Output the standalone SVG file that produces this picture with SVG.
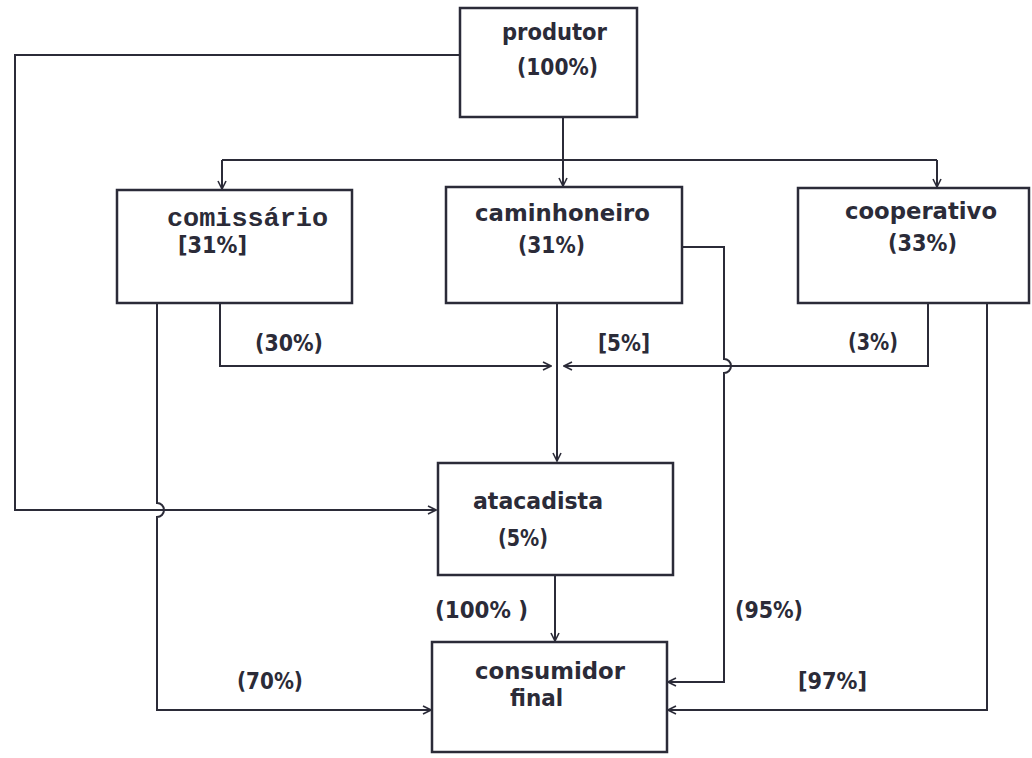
<svg xmlns="http://www.w3.org/2000/svg" width="1032" height="758" viewBox="0 0 1032 758">
  <defs>
    <style>
      .box { fill: #ffffff; stroke: #2b2b38; stroke-width: 2.5; }
      .wire { fill: none; stroke: #2b2b38; stroke-width: 2; }
      .lbl { font-family: "DejaVu Sans Condensed", "DejaVu Sans", sans-serif; font-weight: bold; font-size: 23px; fill: #2b2b38; }
      .mono { font-family: "Liberation Mono", "DejaVu Sans Mono", monospace; font-size: 26px; font-weight: bold; fill: #2b2b38; }
    </style>
    <marker id="arr" viewBox="0 0 10 10" refX="9" refY="5" markerWidth="10" markerHeight="10" markerUnits="userSpaceOnUse" orient="auto">
      <path d="M1,1 L9,5 L1,9" fill="none" stroke="#2b2b38" stroke-width="1.6"/>
    </marker>
  </defs>
  <rect width="1032" height="758" fill="#ffffff"/>

  <!-- flows between the stages -->
  <g id="connectors" class="wire">
    <!-- produtor straight to atacadista -->
    <path d="M460,55 H15 V510 H436" marker-end="url(#arr)"/>
    <!-- produtor fans out to the three intermediaries -->
    <path d="M563,117 V160"/>
    <path d="M222,160 H937"/>
    <path d="M222,160 V189" marker-end="url(#arr)"/>
    <path d="M563,160 V186" marker-end="url(#arr)"/>
    <path d="M937,160 V187" marker-end="url(#arr)"/>
    <!-- comissário to consumidor final (70%), hopping the produtor line -->
    <path d="M157,303 V503 A7,7 0 0 1 157,517 V710 H431" marker-end="url(#arr)"/>
    <!-- comissário to atacadista (30%) -->
    <path d="M220,303 V366 H551" marker-end="url(#arr)"/>
    <!-- caminhoneiro to atacadista (5%) -->
    <path d="M557,303 V461" marker-end="url(#arr)"/>
    <!-- cooperativo to atacadista (3%) -->
    <path d="M928,303 V366 H564" marker-end="url(#arr)"/>
    <!-- caminhoneiro to consumidor final (95%), hopping the 3% line -->
    <path d="M682,247 H724 V359 A7,7 0 0 1 724,373 V682 H668" marker-end="url(#arr)"/>
    <!-- cooperativo to consumidor final (97%) -->
    <path d="M987,303 V710 H668" marker-end="url(#arr)"/>
    <!-- atacadista to consumidor final (100%) -->
    <path d="M555,575 V641" marker-end="url(#arr)"/>
  </g>

  <g id="produtor">
    <rect class="box" x="460" y="8" width="177" height="109"/>
    <text class="lbl" x="502" y="40" textLength="105" lengthAdjust="spacingAndGlyphs">produtor</text>
    <text class="lbl" x="517" y="75" textLength="81" lengthAdjust="spacingAndGlyphs">(100%)</text>
  </g>

  <g id="comissario">
    <rect class="box" x="117" y="190" width="235" height="113"/>
    <text class="mono" x="167" y="226" textLength="161" lengthAdjust="spacingAndGlyphs">comissário</text>
    <text class="lbl" x="178" y="253" textLength="69" lengthAdjust="spacingAndGlyphs">[31%]</text>
  </g>

  <g id="caminhoneiro">
    <rect class="box" x="446" y="187" width="236" height="116"/>
    <text class="lbl" x="475" y="221" textLength="175" lengthAdjust="spacingAndGlyphs">caminhoneiro</text>
    <text class="lbl" x="518" y="253" textLength="67" lengthAdjust="spacingAndGlyphs">(31%)</text>
  </g>

  <g id="cooperativo">
    <rect class="box" x="798" y="188" width="231" height="115"/>
    <text class="lbl" x="845" y="219" textLength="152" lengthAdjust="spacingAndGlyphs">cooperativo</text>
    <text class="lbl" x="888" y="251" textLength="69" lengthAdjust="spacingAndGlyphs">(33%)</text>
  </g>

  <g id="atacadista">
    <rect class="box" x="438" y="463" width="235" height="112"/>
    <text class="lbl" x="473" y="509" textLength="130" lengthAdjust="spacingAndGlyphs">atacadista</text>
    <text class="lbl" x="498" y="546" textLength="50" lengthAdjust="spacingAndGlyphs">(5%)</text>
  </g>

  <g id="consumidor-final">
    <rect class="box" x="432" y="642" width="235" height="110"/>
    <text class="lbl" x="475" y="679" textLength="150" lengthAdjust="spacingAndGlyphs">consumidor</text>
    <text class="lbl" x="510" y="706" textLength="53" lengthAdjust="spacingAndGlyphs">final</text>
  </g>

  <!-- flow shares -->
  <g id="shares">
    <text class="lbl" x="255" y="351" textLength="68" lengthAdjust="spacingAndGlyphs">(30%)</text>
    <text class="lbl" x="598" y="351" textLength="52" lengthAdjust="spacingAndGlyphs">[5%]</text>
    <text class="lbl" x="848" y="350" textLength="50" lengthAdjust="spacingAndGlyphs">(3%)</text>
    <text class="lbl" x="435" y="618" textLength="93" lengthAdjust="spacingAndGlyphs">(100% )</text>
    <text class="lbl" x="735" y="618" textLength="68" lengthAdjust="spacingAndGlyphs">(95%)</text>
    <text class="lbl" x="237" y="689" textLength="66" lengthAdjust="spacingAndGlyphs">(70%)</text>
    <text class="lbl" x="798" y="689" textLength="69" lengthAdjust="spacingAndGlyphs">[97%]</text>
  </g>
</svg>
